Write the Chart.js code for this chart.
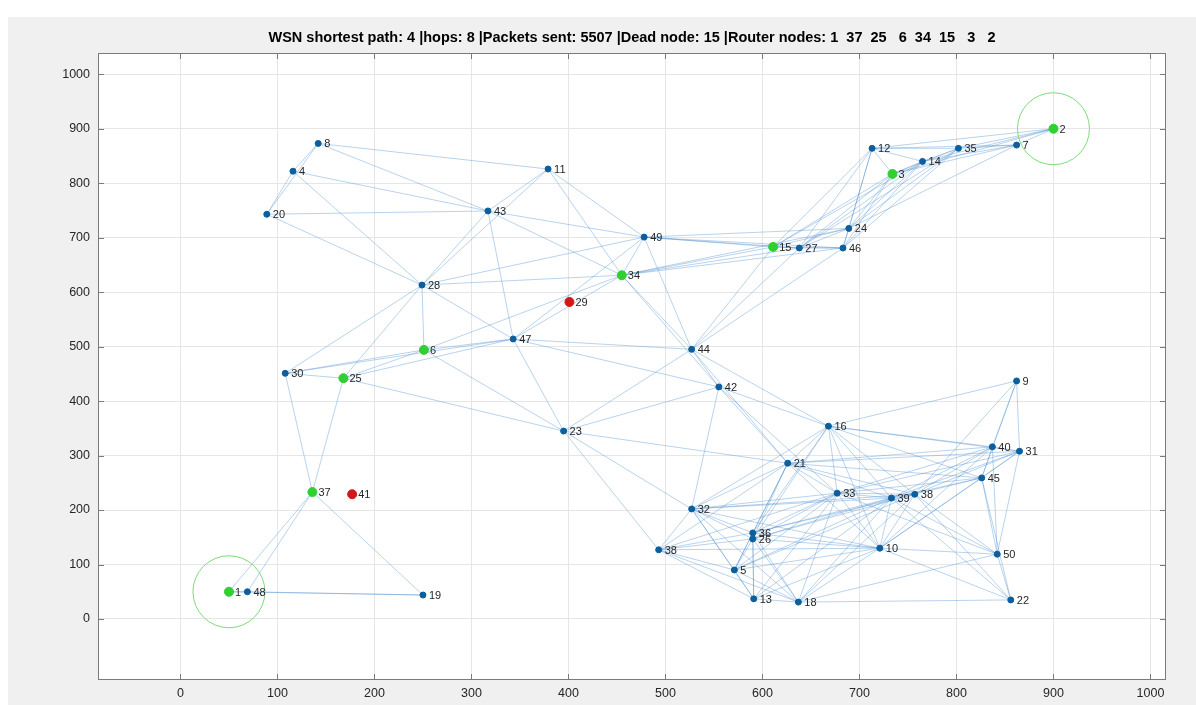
<!DOCTYPE html>
<html>
<head>
<meta charset="utf-8">
<title>WSN shortest path</title>
<script src="https://cdn.jsdelivr.net/npm/chart.js@4/dist/chart.umd.min.js"></script>
<style>
  html, body { margin: 0; padding: 0; background: #fff; }
  #wrap { position: absolute; left: 0; top: 0; width: 1196px; height: 705px; }
</style>
</head>
<body>
<div id="wrap"><canvas id="wsnChart" width="1196" height="705"></canvas></div>
<script>
// node labels and positions
const nodeLabels = ['1', '48', '19', '37', '41', '30', '25', '6', '47', '23',
                    '28', '20', '4', '8', '43', '11', '49', '34', '29', '44',
                    '42', '16', '21', '32', '38', '5', '13', '18', '36', '26',
                    '10', '33', '39', '38', '45', '40', '31', '9', '50', '22',
                    '15', '27', '46', '24', '12', '14', '3', '35', '7', '2'];
const nodeX = [50, 69, 250, 136, 177, 108, 168, 251, 343, 395,
               249, 89, 116, 142, 317, 379, 478, 455, 401, 527,
               555, 668, 626, 527, 493, 571, 591, 637, 590, 590,
               721, 677, 733, 757, 826, 837, 865, 862, 842, 856,
               611, 638, 683, 689, 713, 765, 734, 802, 862, 900];
const nodeY = [50, 50, 44, 233, 229, 451, 442, 494, 514, 345,
               613, 743, 822, 873, 749, 826, 701, 631, 582, 495,
               426, 354, 286, 202, 127, 90, 37, 31, 158, 147,
               130, 231, 222, 229, 259, 316, 308, 437, 119, 35,
               683, 681, 681, 717, 864, 840, 817, 864, 870, 900];
// n = normal, r = router (on the path), d = dead
const nodeKind = ['r', 'n', 'n', 'r', 'd', 'n', 'r', 'r', 'n', 'n',
                  'n', 'n', 'n', 'n', 'n', 'n', 'n', 'r', 'd', 'n',
                  'n', 'n', 'n', 'n', 'n', 'n', 'n', 'n', 'n', 'n',
                  'n', 'n', 'n', 'n', 'n', 'n', 'n', 'n', 'n', 'n',
                  'r', 'n', 'n', 'n', 'n', 'n', 'r', 'n', 'n', 'r'];
const circledNodes = ['1', '2'];   // source and sink
const radioRange = 250;            // link range between live nodes
const tickValues = [0, 100, 200, 300, 400, 500, 600, 700, 800, 900, 1000];
const titleText = 'WSN shortest path: 4 |hops: 8 |Packets sent: 5507 |Dead node: 15 |Router nodes: 1  37  25   6  34  15   3   2';

const axisFont = 'Liberation Sans, Arial, Helvetica, sans-serif';

function pointsOf(kind) {
    const pts = [];
    for (let i = 0; i < nodeLabels.length; i++) {
        if (nodeKind[i] === kind) pts.push({ x: nodeX[i], y: nodeY[i] });
    }
    return pts;
}

// links between live nodes in range
const linkSets = [];
for (let i = 0; i < nodeLabels.length; i++) {
    for (let j = i + 1; j < nodeLabels.length; j++) {
        if (nodeKind[i] === 'd' || nodeKind[j] === 'd') continue;
        const d = Math.hypot(nodeX[i] - nodeX[j], nodeY[i] - nodeY[j]);
        if (d <= radioRange) {
            linkSets.push({
                type: 'line',
                data: [{ x: nodeX[i], y: nodeY[i] }, { x: nodeX[j], y: nodeY[j] }],
                borderColor: 'rgba(70,140,205,0.38)',
                borderWidth: 1,
                pointRadius: 0,
                fill: false,
                order: 10
            });
        }
    }
}

const ringPoints = circledNodes.map(function(lbl) {
    const i = nodeLabels.indexOf(lbl);
    return { x: nodeX[i], y: nodeY[i] };
});

const framePlugin = {
    id: 'frame',
    beforeDraw(chart) {
        const { ctx, chartArea: a } = chart;
        ctx.save();
        ctx.fillStyle = '#ffffff';
        ctx.fillRect(0, 0, chart.width, chart.height);
        ctx.fillStyle = '#f0f0f0';
        ctx.fillRect(8, 17, chart.width - 8, chart.height - 17);
        ctx.fillStyle = '#ffffff';
        ctx.fillRect(a.left, a.top, a.right - a.left, a.bottom - a.top);
        ctx.restore();
    },
    afterDatasetsDraw(chart) {
        const ctx = chart.ctx;
        const xs = chart.scales.x, ys = chart.scales.y;
        ctx.save();
        ctx.font = '11px ' + axisFont;
        ctx.fillStyle = '#262626';
        ctx.textBaseline = 'middle';
        ctx.textAlign = 'left';
        for (let i = 0; i < nodeLabels.length; i++) {
            ctx.fillText(nodeLabels[i], xs.getPixelForValue(nodeX[i]) + 6, ys.getPixelForValue(nodeY[i]) + 1);
        }
        ctx.restore();
    },
    afterDraw(chart) {
        const { ctx, chartArea: a } = chart;
        const xs = chart.scales.x, ys = chart.scales.y;
        ctx.save();
        ctx.strokeStyle = '#7a7a7a';
        ctx.lineWidth = 1;
        ctx.strokeRect(a.left + 0.5, a.top + 0.5, a.right - a.left - 1, a.bottom - a.top - 1);
        ctx.beginPath();
        xs.ticks.forEach(function(t) {
            const px = Math.round(xs.getPixelForValue(t.value)) + 0.5;
            ctx.moveTo(px, a.bottom); ctx.lineTo(px, a.bottom - 6);
            ctx.moveTo(px, a.top); ctx.lineTo(px, a.top + 6);
        });
        ys.ticks.forEach(function(t) {
            const py = Math.round(ys.getPixelForValue(t.value)) + 0.5;
            ctx.moveTo(a.left, py); ctx.lineTo(a.left + 6, py);
            ctx.moveTo(a.right, py); ctx.lineTo(a.right - 6, py);
        });
        ctx.stroke();
        // title centred on the axes
        ctx.font = 'bold 14.5px ' + axisFont;
        ctx.fillStyle = '#000';
        ctx.textAlign = 'center';
        ctx.textBaseline = 'middle';
        ctx.fillText(titleText, (a.left + a.right) / 2, 38);
        ctx.restore();
    }
};

function plainTick(v) { return String(v); }

new Chart(document.getElementById('wsnChart').getContext('2d'), {
    type: 'scatter',
    data: {
        datasets: linkSets.concat([
            {
                label: 'nodes',
                data: pointsOf('n'),
                backgroundColor: '#0d5e9c',
                borderColor: '#0d5e9c',
                pointRadius: 3,
                order: 2
            },
            {
                label: 'router',
                data: pointsOf('r'),
                backgroundColor: '#2fd02f',
                borderColor: '#2fd02f',
                pointRadius: 4.5,
                order: 1
            },
            {
                label: 'dead',
                data: pointsOf('d'),
                backgroundColor: '#d01a1a',
                borderColor: '#d01a1a',
                pointRadius: 4.5,
                order: 1
            },
            {
                label: 'ends',
                data: ringPoints,
                backgroundColor: 'rgba(0,0,0,0)',
                borderColor: '#7ddc7d',
                borderWidth: 1,
                pointRadius: 36,
                order: 0
            }
        ])
    },
    options: {
        responsive: false,
        animation: false,
        layout: { autoPadding: false, padding: { top: 53, right: 30, bottom: 0, left: 0 } },
        plugins: {
            legend: { display: false },
            tooltip: { enabled: false },
            title: { display: false }
        },
        scales: {
            x: {
                type: 'linear',
                min: -85,
                max: 1016,
                afterBuildTicks: function(scale) {
                    scale.ticks = tickValues.map(function(v) { return { value: v }; });
                },
                afterFit: function(scale) { scale.height = 25; },
                ticks: { color: '#262626', font: { size: 12.5, family: axisFont }, padding: 6, maxRotation: 0, callback: plainTick },
                grid: { color: '#e6e6e6', drawTicks: false },
                border: { display: false }
            },
            y: {
                type: 'linear',
                min: -112,
                max: 1039,
                afterBuildTicks: function(scale) {
                    scale.ticks = tickValues.map(function(v) { return { value: v }; });
                },
                afterFit: function(scale) { scale.width = 98; },
                ticks: { color: '#262626', font: { size: 12.5, family: axisFont }, padding: 8, callback: plainTick },
                grid: { color: '#e6e6e6', drawTicks: false },
                border: { display: false }
            }
        }
    },
    plugins: [framePlugin]
});
</script>
</body>
</html>
